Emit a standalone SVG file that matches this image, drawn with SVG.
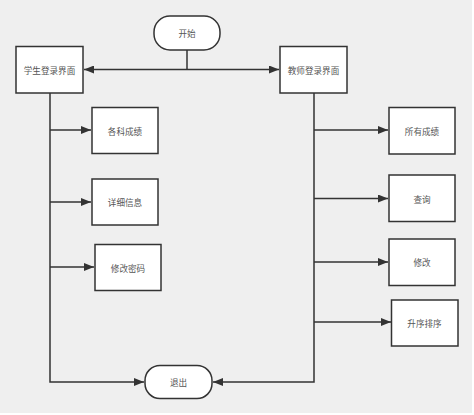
<svg xmlns="http://www.w3.org/2000/svg" width="474" height="415" viewBox="0 0 474 415">
<defs>
<marker id="arr" viewBox="0 0 10 8" refX="10" refY="4" markerWidth="10" markerHeight="8" markerUnits="userSpaceOnUse" orient="auto-start-reverse">
<path d="M0,0 L10,4 L0,8 Z" fill="#333"/>
</marker>
</defs>
<style>
.box{fill:#fff;stroke:#333;stroke-width:1.5}
.t{font-family:"Noto Sans CJK SC","Noto Sans",sans-serif;font-size:8.6px;fill:#555;text-anchor:middle;dominant-baseline:central}
.c{fill:none;stroke:#333;stroke-width:1.5}
</style>
<rect x="0" y="0" width="474" height="415" fill="#fff"/>
<rect x="0" y="0" width="472" height="413" fill="#efefef"/>
<g id="connectors">
<path class="c" d="M187,50 V69.5"/>
<path class="c" d="M84,69.5 H279" marker-start="url(#arr)" marker-end="url(#arr)"/>
<path class="c" d="M50,93 V382 H144" marker-end="url(#arr)"/>
<path class="c" d="M50,130 H91" marker-end="url(#arr)"/>
<path class="c" d="M50,202 H91" marker-end="url(#arr)"/>
<path class="c" d="M50,267 H94" marker-end="url(#arr)"/>
<path class="c" d="M314,93 V382 H213" marker-end="url(#arr)"/>
<path class="c" d="M314,130 H388" marker-end="url(#arr)"/>
<path class="c" d="M314,198.5 H388" marker-end="url(#arr)"/>
<path class="c" d="M314,262 H388" marker-end="url(#arr)"/>
<path class="c" d="M314,322 H391" marker-end="url(#arr)"/>
</g>
<g id="start"><rect class="box" x="154" y="16" width="66" height="34" rx="16" ry="16"/><text class="t" x="187" y="33">开始</text></g>
<g id="student"><rect class="box" x="16" y="46.5" width="67" height="46.5"/><text class="t" x="49.5" y="70">学生登录界面</text></g>
<g id="teacher"><rect class="box" x="280" y="46.5" width="67" height="46.5"/><text class="t" x="313.5" y="70">教师登录界面</text></g>
<g id="gkcj"><rect class="box" x="92" y="107.5" width="66" height="46"/><text class="t" x="125" y="130.5">各科成绩</text></g>
<g id="xxxx"><rect class="box" x="92" y="179" width="66" height="46"/><text class="t" x="125" y="202">详细信息</text></g>
<g id="xgmm"><rect class="box" x="95" y="244.5" width="66" height="46"/><text class="t" x="128" y="267.5">修改密码</text></g>
<g id="exit"><rect class="box" x="145" y="365.5" width="67" height="33" rx="15" ry="15"/><text class="t" x="178.5" y="382">退出</text></g>
<g id="yycj"><rect class="box" x="389" y="107.5" width="66" height="46.5"/><text class="t" x="422" y="130.5">所有成绩</text></g>
<g id="cx"><rect class="box" x="389" y="175" width="66" height="46.5"/><text class="t" x="422" y="198.5">查询</text></g>
<g id="xg"><rect class="box" x="389" y="239" width="66" height="46.5"/><text class="t" x="422" y="262">修改</text></g>
<g id="sxpx"><rect class="box" x="391.5" y="300" width="66.5" height="46"/><text class="t" x="424.5" y="323">升序排序</text></g>
</svg>
